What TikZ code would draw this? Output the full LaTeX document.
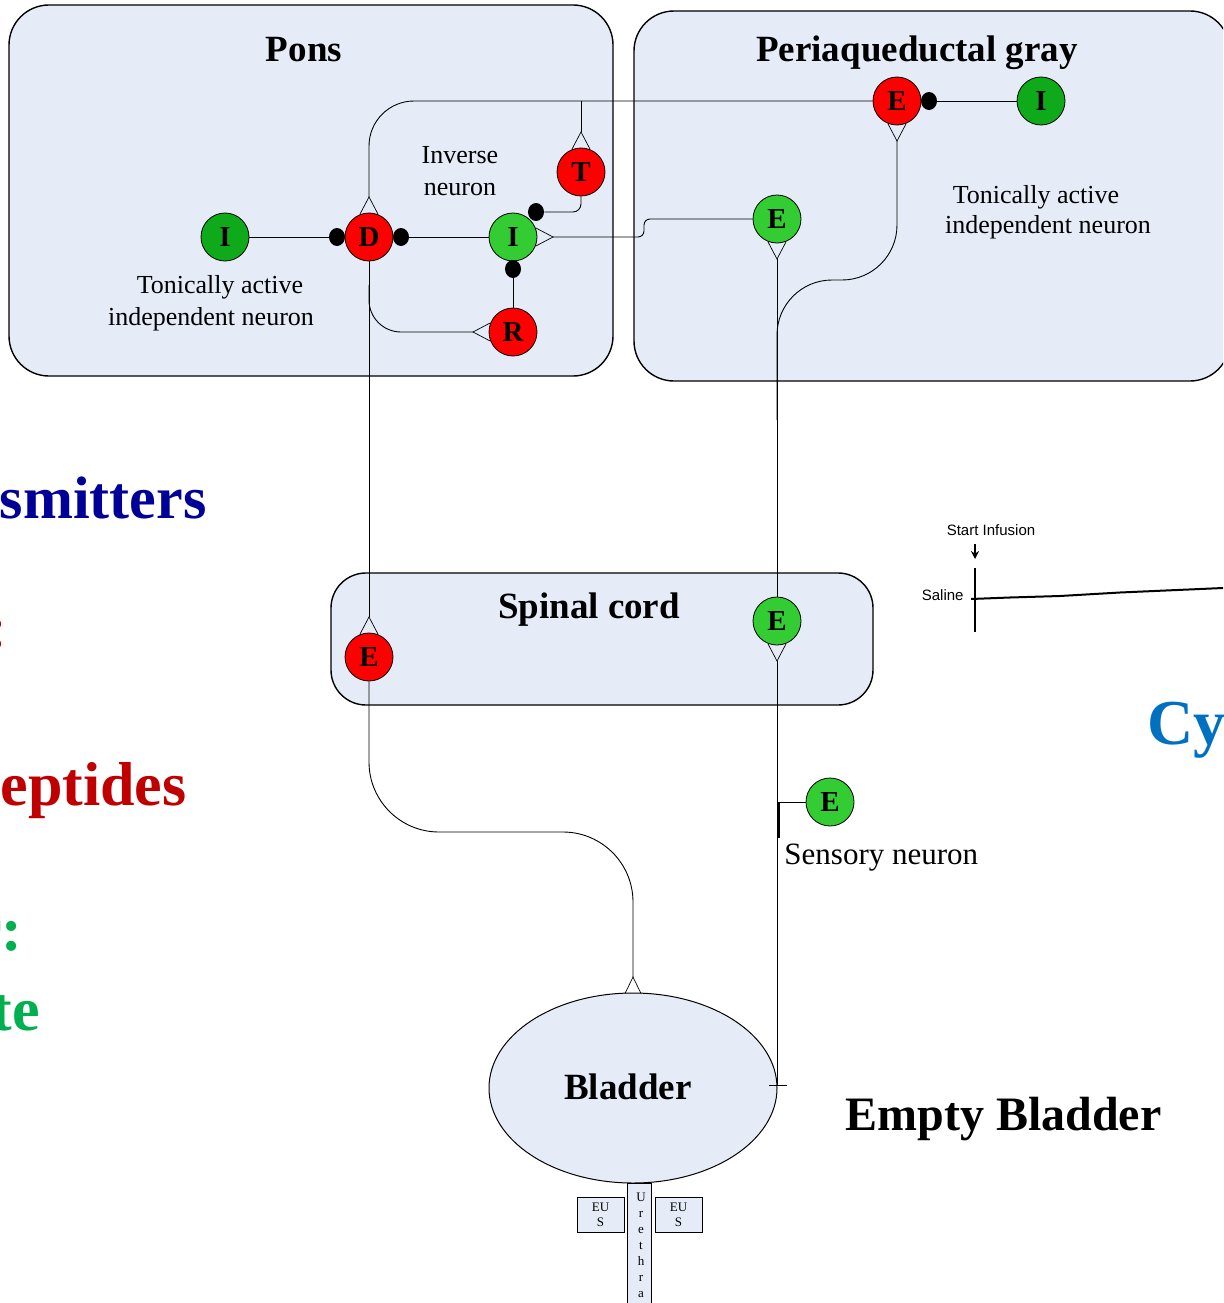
\documentclass[tikz,border=0pt]{standalone}
\usepackage{fontspec}
\setmainfont{Liberation Serif}
\newfontfamily\sansf{Liberation Sans}
\usetikzlibrary{shapes.geometric,calc,arrows.meta}
\definecolor{boxfill}{HTML}{E6ECF7}
\definecolor{nred}{HTML}{FF0000}
\definecolor{lgreen}{HTML}{33CC33}
\definecolor{dgreen}{HTML}{0EAA1A}
\definecolor{tblue}{HTML}{000099}
\definecolor{tred}{HTML}{C00000}
\definecolor{tgreen}{HTML}{00B050}
\definecolor{cyblue}{HTML}{0070C0}
\newcommand\fsz[1]{\fontsize{#1}{#1}\selectfont}
\begin{document}
\begin{tikzpicture}[x=1pt,y=-1pt,line width=0.9pt,
  region/.style={draw=black,line width=1.4pt,fill=boxfill,rounded corners=40pt},
  neuron/.style={circle,draw=black,line width=0.8pt,minimum size=48pt,inner sep=0pt,font=\fsz{29}\bfseries},
  rn/.style={neuron,fill=nred},
  lg/.style={neuron,fill=lgreen},
  dg/.style={neuron,fill=dgreen},
  syn/.style={ellipse,fill=black,minimum width=16pt,minimum height=18pt,inner sep=0pt},
  title/.style={font=\fsz{37}\bfseries,anchor=base,inner sep=0pt},
  lab/.style={font=\fsz{26},anchor=base,inner sep=0pt},
  big/.style={font=\fsz{62}\bfseries,inner sep=0pt},
  forkl/.style={line width=0.7pt},
  small/.style={font=\fsz{13},inner sep=0pt},
  eus/.style={draw=black,line width=0.8pt,fill=boxfill,minimum width=47pt,minimum height=35pt,inner sep=0pt,align=center,font=\fontsize{13}{15}\selectfont}
]
\useasboundingbox (0,0) rectangle (1223,1303);
\clip (0,0) rectangle (1223,1303);

% regions
\draw[region] (9,5) rectangle (613,376);
\draw[region] (634,11) rectangle (1230,381);
\draw[region,rounded corners=35pt] (331,573) rectangle (873,705);

\node[title] (tPons) at (304,62) {Pons};
\node[title] (tPAG) at (917,62) {Periaqueductal gray};
\node[title] (tSC) at (589,618) {Spinal cord};

% labels
\node[lab] (inv1) at (460,164) {Inverse};
\node[lab] (inv2) at (460,195) {neuron};
\node[lab] (ta1) at (220,293) {Tonically active};
\node[lab] (ta2) at (211,325) {independent neuron};
\node[lab] (tb1) at (1036,203) {Tonically active};
\node[lab] (tb2) at (1048,233) {independent neuron};
\node[font=\fsz{31},anchor=base west,inner sep=0pt] (sens) at (784,864) {Sensory neuron};

% neurons
\node[dg] (PI) at (225,237) {I};
\node[rn] (D) at (369,237) {D};
\node[lg] (I2) at (513,237) {I};
\node[rn] (T) at (581,172) {T};
\node[rn] (R) at (513,332) {R};
\node[rn] (PE) at (897,101) {E};
\node[dg] (PIs) at (1041,101) {I};
\node[lg] (PG) at (777,219) {E};
\node[rn] (SR) at (369,657) {E};
\node[lg] (SG) at (777,621) {E};
\node[lg] (SE) at (830,802) {E};

% synapse dots
\node[syn] (dotL) at (337,237) {};
\node[syn] (dotR) at (401,237) {};
\node[syn] (dotT) at (536,212) {};
\node[syn] (dotB) at (513,269) {};
\node[syn] (dotPE) at (929,101) {};

% bladder and urethra
\node[ellipse,draw=black,line width=1pt,fill=boxfill,minimum width=288pt,minimum height=190pt,inner sep=0pt] (bl) at (633,1088) {};
\node[title] (tbl) at (628,1099) {Bladder};
\node[draw=black,line width=0.8pt,fill=boxfill,minimum width=24pt,minimum height=130pt,inner sep=0pt,anchor=north] (ur) at (639,1183) {};
\foreach \c [count=\k] in {U,r,e,t,h,r,a}{
  \node[small,anchor=base] (u\k) at (641,{1186+15.9*\k}) {\c};
}
\node[eus] (eus1) at (600.5,1214.5) {EU\\S};
\node[eus] (eus2) at (678.5,1214.5) {EU\\S};
\node[font=\fsz{48}\bfseries,anchor=base west,inner sep=0pt] (empty) at (845,1130) {Empty Bladder};

% fork apexes
\coordinate (aD) at (369,197);
\coordinate (aT) at (581,132);
\coordinate (aI) at (553,237);
\coordinate (aR) at (473,332);
\coordinate (aPE) at (897,141);
\coordinate (aPG) at (777,259);
\coordinate (aSR) at (369,617);
\coordinate (aSG) at (777,661);
\coordinate (aBl) at (633,977);
\coordinate (bend1) at (369,101);
\coordinate (tj) at (581,101);
\coordinate (rj) at (369,285);
\coordinate (tick) at (777,1085);

% forks
\draw[forkl] (D.68) -- (aD) -- (D.112);
\draw[forkl] (T.68) -- (aT) -- (T.112);
\draw[forkl] (I2.22) -- (aI) -- (I2.-22);
\draw[forkl] (R.158) -- (aR) -- (R.202);
\draw[forkl] (PE.248) -- (aPE) -- (PE.292);
\draw[forkl] (PG.248) -- (aPG) -- (PG.292);
\draw[forkl] (SR.68) -- (aSR) -- (SR.112);
\draw[forkl] (SG.248) -- (aSG) -- (SG.292);
\draw[forkl] ($(bl.north)+(-8,1)$) -- (aBl) -- ($(bl.north)+(8,1)$);

% connectors
\draw (PI.east) -- (dotL);
\draw (dotR) -- (I2.west);
\draw[rounded corners=8pt] (T.south) |- (dotT);
\draw (R.north) -- (dotB);
\draw (D.south) -- (aSR);
\draw[rounded corners=32pt] (rj) |- (aR);
\draw[rounded corners=45pt] (aD) -- (bend1) -- (PE.west);
\draw (tj) -- (aT);
\draw (dotPE) -- (PIs.west);
\draw[rounded corners=6pt] (aI) -- (644,237) -- (644,219) -- (PG.west);
\draw[rounded corners=55pt] (aPE) -- (897,280) -- (777,280) -- (777,420);
\draw (aPG) -- (SG.north);
\draw (aSG) -- (tick);
\draw (769,1085) -- (787,1085);
\draw[rounded corners=70pt] (SR.south) -- (369,832) -- (633,832) -- (aBl);
\draw (SE.west) -- (779,802);
\draw[line width=1.6pt] (779,802) -- (779,838);

% left cut-off texts
\node[big,font=\fsz{60}\bfseries,text=tblue,anchor=base east] (t1) at (207,518) {smitters};
\node[big,text=tred,anchor=base east] (t2) at (8,648) {:};
\node[big,text=tred,anchor=base east] (t3) at (187,805) {eptides};
\node[big,text=tgreen,anchor=base east] (t4) at (23,950) {r:};
\node[big,text=tgreen,anchor=base east] (t5) at (40,1030) {te};
\node[font=\fsz{64}\bfseries,text=cyblue,anchor=base west,inner sep=0pt] (t6) at (1147,744) {Cy};

% saline trace
\node[font=\sansf\fsz{15},inner sep=0pt] (si) at (991,530) {Start Infusion};
\node[font=\sansf\fsz{15},inner sep=0pt,anchor=east] (sal) at (964,595) {Saline};
\coordinate (arT) at (975,544);
\coordinate (arB) at (975,559);
\draw[-{Stealth[length=8pt,width=8pt]},line width=1.3pt] (arT) -- (arB);
\draw[line width=1.4pt] (975,568) -- (975,632);
\draw[line width=2pt] (971,599) -- (1010,597.5) -- (1060,596) -- (1120,592.5) -- (1223,588);
\end{tikzpicture}
\end{document}
